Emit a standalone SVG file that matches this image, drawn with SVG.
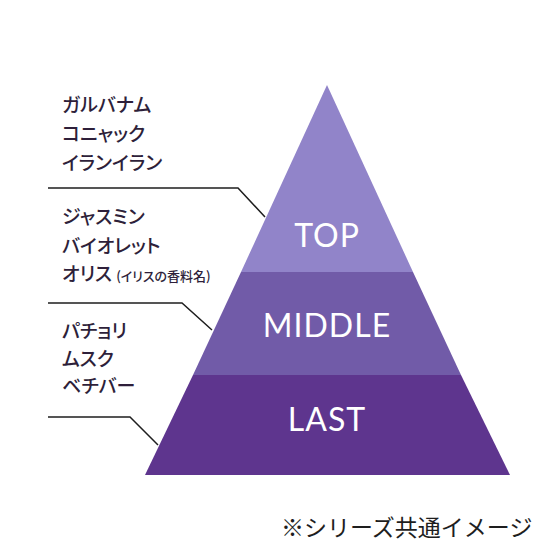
<svg xmlns="http://www.w3.org/2000/svg" width="560" height="560" viewBox="0 0 560 560">
<style>
.lbl{font-family:"Noto Sans CJK JP",sans-serif;font-size:19px;font-weight:500;fill:#2e1f3a;font-feature-settings:"palt"}
.sm{font-size:13px}
.tier{font-family:Lato,"Liberation Sans",sans-serif;font-size:32px;fill:#ffffff;text-anchor:middle;letter-spacing:1px}
.lead{fill:none;stroke:#1e1e1e;stroke-width:1.5}
.note{font-family:"Noto Sans CJK JP",sans-serif;font-size:23px;fill:#1e1e1e}
</style>
<rect width="560" height="560" fill="#ffffff"/>
<g id="top">
<polygon points="327,85 413,272 241,272" fill="#9184c9"/>
<text class="tier" x="327" y="247">TOP</text>
</g>
<g id="middle">
<polygon points="241,272 413,272 461,375 193,375" fill="#715ba8"/>
<text class="tier" x="327" y="337">MIDDLE</text>
</g>
<g id="last">
<polygon points="193,375 461,375 510,475 145,475" fill="#5e358e"/>
<text class="tier" x="327" y="431">LAST</text>
</g>
<g id="connectors">
<polyline class="lead" points="48,188 238,188 265,217"/>
<polyline class="lead" points="48,303 182,303 212,330"/>
<polyline class="lead" points="48,417 130,417 158,445"/>
</g>
<g id="top-notes">
<text class="lbl" x="62" y="112">ガルバナム</text>
<text class="lbl" x="62" y="141">コニャック</text>
<text class="lbl" x="62" y="170">イランイラン</text>
</g>
<g id="middle-notes">
<text class="lbl" x="62" y="224">ジャスミン</text>
<text class="lbl" x="62" y="253">バイオレット</text>
<text class="lbl" x="62" y="281">オリス<tspan class="sm" dx="4">(イリスの香料名)</tspan></text>
</g>
<g id="last-notes">
<text class="lbl" x="62" y="338">パチョリ</text>
<text class="lbl" x="62" y="366">ムスク</text>
<text class="lbl" x="62" y="393">ベチバー</text>
</g>
<text class="note" x="281" y="536">※シリーズ共通イメージ</text>
</svg>
